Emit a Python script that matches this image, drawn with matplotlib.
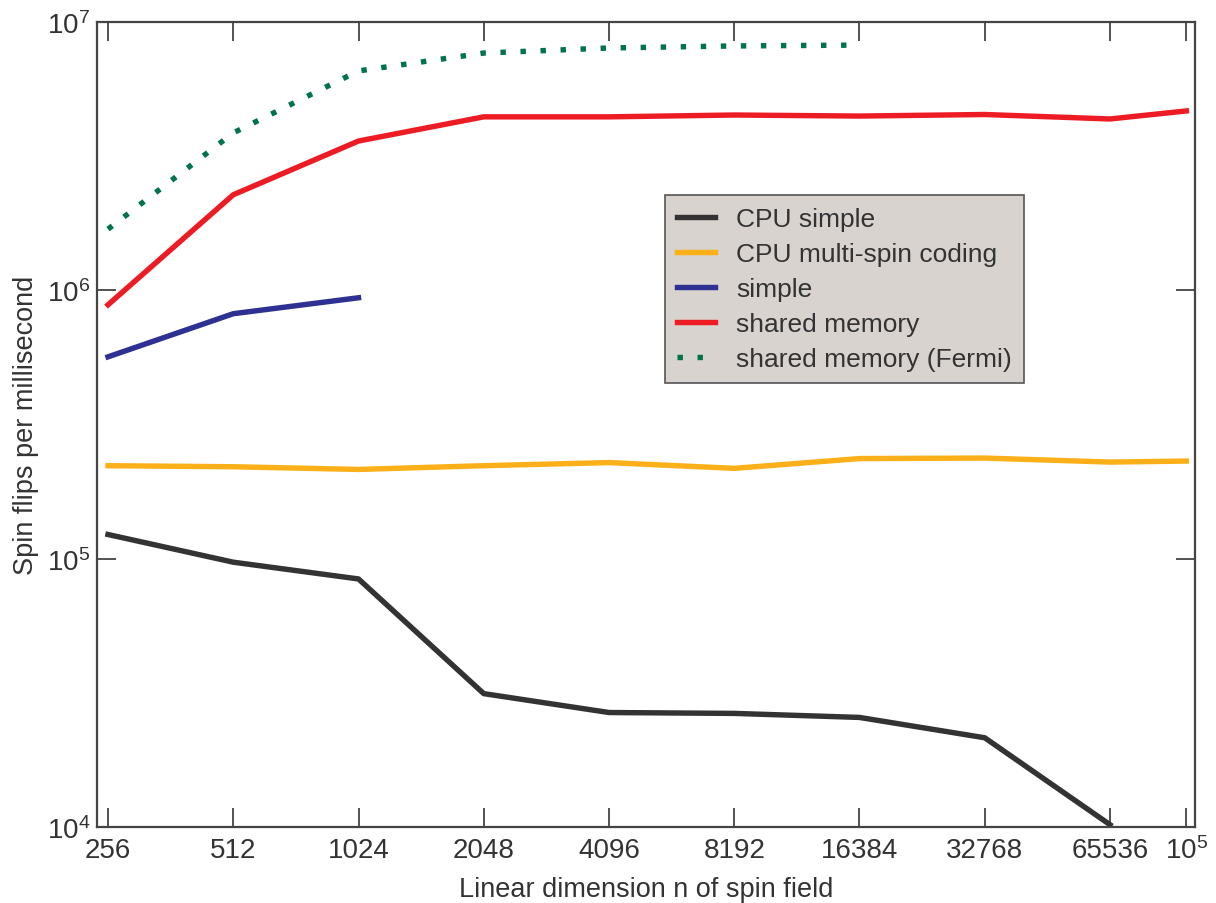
"""
Spin flips per millisecond vs spin field size
"""

import numpy as np
import matplotlib.pyplot as plt

plt.rcParams['font.family'] = ['Liberation Sans', 'DejaVu Sans']
plt.rcParams['mathtext.fontset'] = 'custom'
plt.rcParams['mathtext.rm'] = 'Liberation Sans'
plt.rcParams['mathtext.it'] = 'Liberation Sans:italic'

# data
n_sizes = [256, 512, 1024, 2048, 4096, 8192, 16384, 32768, 65536]
n_last = 100000

cpu_simple = [1.23e5, 9.7e4, 8.4e4, 3.14e4, 2.67e4, 2.65e4, 2.56e4, 2.15e4, 1.02e4]
cpu_multispin = [2.22e5, 2.2e5, 2.15e5, 2.22e5, 2.28e5, 2.17e5, 2.36e5, 2.37e5, 2.29e5, 2.31e5]
gpu_simple = [5.65e5, 8.18e5, 9.38e5]
shared_mem = [8.83e5, 2.27e6, 3.6e6, 4.43e6, 4.43e6, 4.5e6, 4.46e6, 4.52e6, 4.35e6, 4.66e6]
shared_fermi = [1.69e6, 3.86e6, 6.57e6, 7.66e6, 8.0e6, 8.14e6, 8.2e6]

x_ticks = n_sizes + [n_last]
x_ticklabels = [str(n) for n in n_sizes] + ['$10^5$']
y_ticks = [1e4, 1e5, 1e6, 1e7]
y_ticklabels = ['$10^4$', '$10^5$', '$10^6$', '$10^7$']

TEXT = '#333333'
SPINE = '#444444'

fig = plt.figure(figsize=(12.16, 9.04), dpi=100)
ax = fig.add_axes([0.0798, 0.0841, 0.9029, 0.8905])

x_full = n_sizes + [n_last]
lw = 3.9
ax.plot(n_sizes, cpu_simple, color='#333333', lw=lw, label='CPU simple')
ax.plot(x_full, cpu_multispin, color='#FBB01A', lw=lw, label='CPU multi-spin coding')
ax.plot(n_sizes[:len(gpu_simple)], gpu_simple, color='#2E3192', lw=lw, label='simple')
ax.plot(x_full, shared_mem, color='#ED1C24', lw=lw, label='shared memory')
ax.plot(n_sizes[:len(shared_fermi)], shared_fermi, color='#00734A', lw=lw,
        ls=(0, (1, 2.7)), label='shared memory (Fermi)')

ax.set_xscale('log', base=2)
ax.set_yscale('log')
ax.set_xlim(240.9, 104900)
ax.set_ylim(1e4, 1e7)

ax.set_xticks(x_ticks)
ax.set_xticklabels(x_ticklabels)
ax.set_yticks(y_ticks)
ax.set_yticklabels(y_ticklabels)
ax.minorticks_off()
ax.tick_params(axis='both', which='major', direction='in', length=14, width=1.3,
               color=SPINE, labelcolor=TEXT, labelsize=20, top=True, right=True)
ax.tick_params(axis='x', pad=7)
ax.tick_params(axis='y', pad=5)

for s in ax.spines.values():
    s.set_color(SPINE)
    s.set_linewidth(1.6)

ax.set_xlabel('Linear dimension n of spin field', fontsize=19.5, color=TEXT)
ax.set_ylabel('Spin flips per millisecond', fontsize=19.5, color=TEXT)
ax.xaxis.set_label_coords(0.5, -0.061)
ax.yaxis.set_label_coords(-0.053, 0.5)

leg = ax.legend(loc='upper left', bbox_to_anchor=(0.517, 0.785), borderaxespad=0,
                fontsize=19, frameon=True, fancybox=False, handlelength=1.45,
                handletextpad=0.8, labelspacing=0.42, borderpad=0.45)
leg.get_frame().set_facecolor('#D9D3CF')
leg.get_frame().set_edgecolor('#555555')
leg.get_frame().set_linewidth(1.2)
leg.get_frame().set_alpha(1)
for t in leg.get_texts():
    t.set_color(TEXT)

plt.savefig('out.png', dpi=100)
